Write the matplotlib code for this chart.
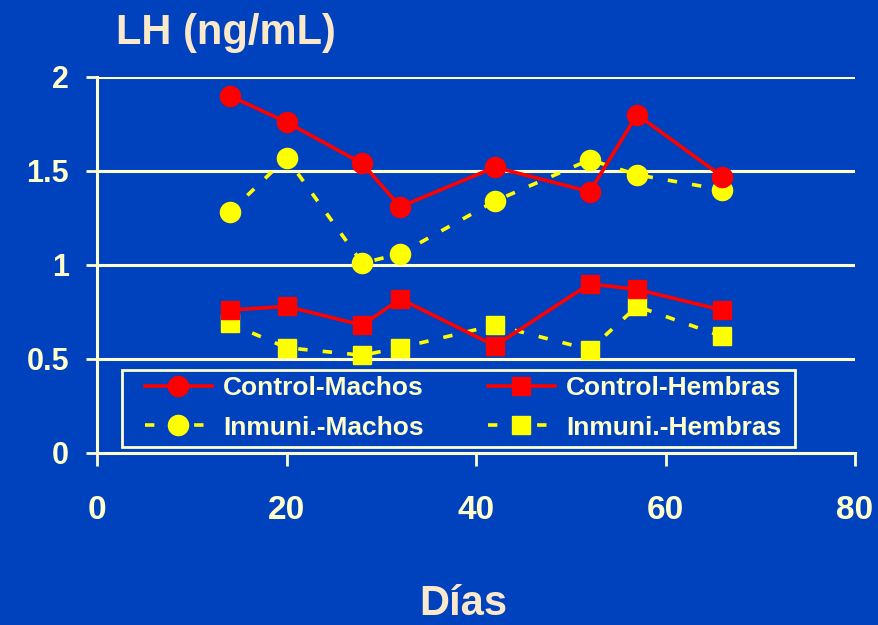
import matplotlib
matplotlib.use("Agg")
import matplotlib.pyplot as plt
from matplotlib.patches import Rectangle

# LH concentration over time, control vs immunised, by sex
dias = [14, 20, 28, 32, 42, 52, 57, 66]
control_machos = [1.90, 1.76, 1.54, 1.31, 1.52, 1.39, 1.80, 1.47]
control_hembras = [0.76, 0.78, 0.68, 0.82, 0.57, 0.90, 0.87, 0.76]
inmuni_machos = [1.28, 1.57, 1.01, 1.06, 1.34, 1.56, 1.48, 1.40]
inmuni_hembras = [0.69, 0.56, 0.52, 0.56, 0.68, 0.55, 0.78, 0.62]

x_ticks = [0, 20, 40, 60, 80]
y_ticks = [0, 0.5, 1, 1.5, 2]
y_ticklabels = ["0", "0.5", "1", "1.5", "2"]

BG = "#0041BE"
CREAM = "#FFFFCC"
BEIGE = "#FAE8CA"
RED = "#FF0000"
YELLOW = "#FFFF00"
FONT = ["Liberation Sans", "DejaVu Sans"]

fig = plt.figure(figsize=(8.79, 6.25), dpi=100, facecolor=BG)
ax = fig.add_axes([97 / 879, 1 - 453 / 625, 758 / 879, 376 / 625])
ax.set_facecolor(BG)

ax.set_xlim(0, 80)
ax.set_ylim(0, 2)

for v in y_ticks[1:]:
    ax.axhline(v, color=CREAM, lw=2.2, zorder=1)

for s in ("top", "right"):
    ax.spines[s].set_visible(False)
for s in ("left", "bottom"):
    ax.spines[s].set_color(CREAM)
    ax.spines[s].set_linewidth(2.2)

ax.set_xticks(x_ticks)
ax.set_yticks(y_ticks)
ax.set_yticklabels(y_ticklabels)
ax.tick_params(axis="x", direction="out", length=9, width=2, color=CREAM,
               pad=21, labelsize=24, labelcolor=CREAM)
ax.tick_params(axis="y", direction="out", length=8, width=2, color=CREAM,
               pad=12, labelsize=22, labelcolor=CREAM)
for lbl in ax.get_xticklabels() + ax.get_yticklabels():
    lbl.set_family(FONT)
    lbl.set_fontweight("bold")

dash = (2.6, 4.2)
h_cm, = ax.plot(dias, control_machos, color=RED, lw=2.6, marker="o", ms=14.5,
                mec=RED, label="Control-Machos", zorder=4)
h_im, = ax.plot(dias, inmuni_machos, color=YELLOW, lw=2.6, ls=(0, dash), marker="o",
                ms=14.5, mec=YELLOW, label="Inmuni.-Machos", zorder=3)
h_ch, = ax.plot(dias, control_hembras, color=RED, lw=2.6, marker="s", ms=12.5,
                mec=RED, label="Control-Hembras", zorder=4)
h_ih, = ax.plot(dias, inmuni_hembras, color=YELLOW, lw=2.6, ls=(0, dash), marker="s",
                ms=12.5, mec=YELLOW, label="Inmuni.-Hembras", zorder=3)

# legend box drawn as its own rectangle so the inner padding can be wider than tall
box = Rectangle((0.033, 0.016), 0.888, 0.205, transform=ax.transAxes,
                facecolor=BG, edgecolor=CREAM, lw=2, zorder=5)
ax.add_patch(box)

leg = ax.legend(handles=[h_cm, h_im, h_ch, h_ih], ncol=2, mode="expand",
                loc="center left", bbox_to_anchor=(0.063, 0.018, 0.84, 0.205),
                borderaxespad=0, frameon=False, handlelength=2.55, handletextpad=0.42,
                labelspacing=0.6, borderpad=0.0, columnspacing=1.0,
                prop={"family": FONT, "weight": "bold", "size": 19})
leg.set_zorder(6)
for t in leg.get_texts():
    t.set_color(CREAM)

fig.text(116 / 879, 1 - 33 / 625, "LH (ng/mL)", color=BEIGE, fontsize=30,
         fontweight="bold", family=FONT, ha="left", va="center")
fig.text(463 / 879, 1 - 604 / 625, "Días", color=BEIGE, fontsize=30,
         fontweight="bold", family=FONT, ha="center", va="center")

fig.savefig("out.png", dpi=100, facecolor=BG)
